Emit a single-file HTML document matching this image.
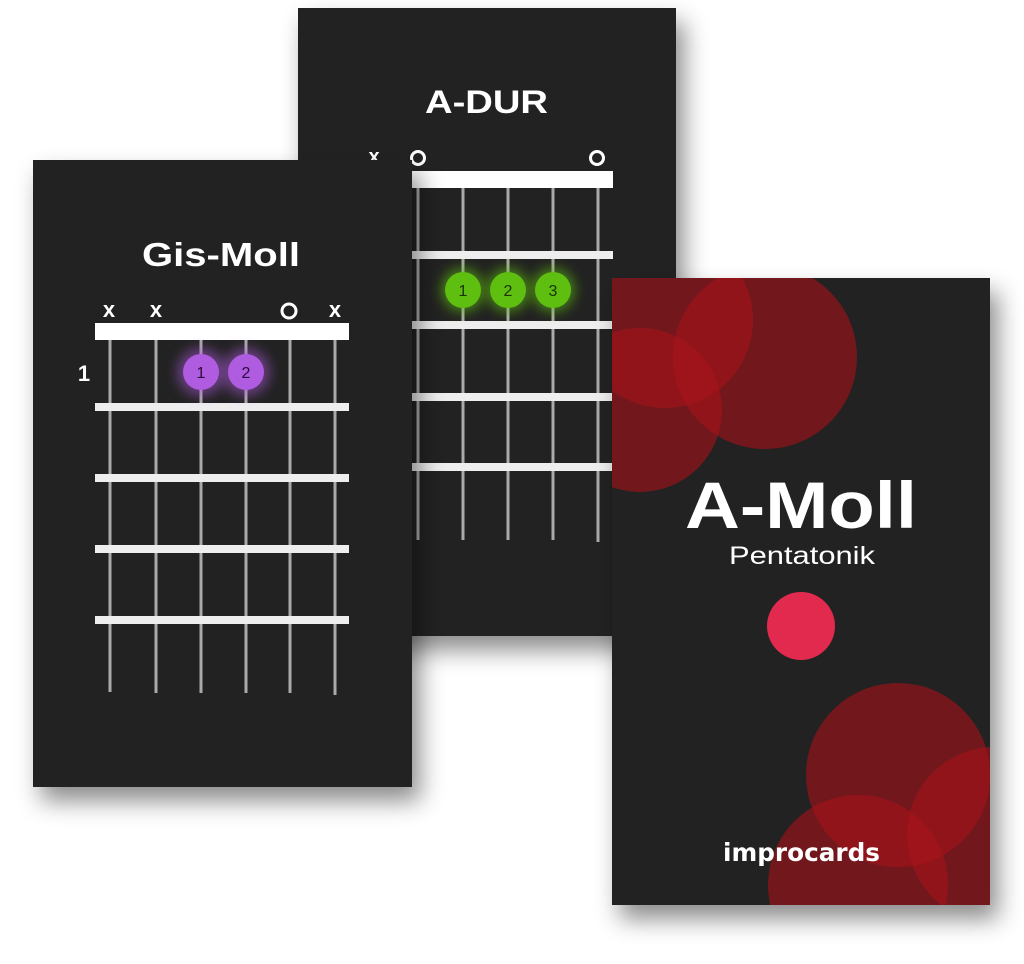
<!DOCTYPE html>
<html><head><meta charset="utf-8"><style>
html,body{margin:0;padding:0;background:#fff;width:1024px;height:964px;overflow:hidden}
svg{display:block}
text{font-family:"Liberation Sans",sans-serif;fill:#fff}
</style></head><body>
<svg width="1024" height="964" viewBox="0 0 1024 964" xmlns="http://www.w3.org/2000/svg">
<defs>
<filter id="sh" x="-20%" y="-20%" width="150%" height="150%"><feDropShadow dx="8" dy="14" stdDeviation="12" flood-color="#000" flood-opacity="0.45"/></filter>
<filter id="gl" x="-100%" y="-100%" width="300%" height="300%"><feGaussianBlur stdDeviation="6"/></filter>
<clipPath id="c3"><rect x="612" y="278" width="378" height="627"/></clipPath>
</defs>

<!-- A-DUR card -->
<rect x="298" y="8" width="378" height="628" fill="#232323" filter="url(#sh)"/>
<text x="425" y="113" font-size="32" font-weight="bold" textLength="123" lengthAdjust="spacingAndGlyphs">A-DUR</text>
<text x="374" y="163" font-size="20" font-weight="bold" text-anchor="middle">x</text>
<circle cx="418" cy="158" r="6.5" fill="none" stroke="#fff" stroke-width="3"/>
<circle cx="597" cy="158" r="6.5" fill="none" stroke="#fff" stroke-width="3"/>
<g stroke="#aaa" stroke-width="3">
<line x1="418" y1="188" x2="418" y2="540"/><line x1="463" y1="188" x2="463" y2="540"/><line x1="508" y1="188" x2="508" y2="540"/><line x1="553" y1="188" x2="553" y2="540"/><line x1="598" y1="188" x2="598" y2="542"/>
</g>
<rect x="411" y="171" width="202" height="17" fill="#fff"/>
<g fill="#eee"><rect x="411" y="251" width="202" height="8"/><rect x="411" y="321" width="202" height="8"/><rect x="411" y="393" width="202" height="8"/><rect x="411" y="463" width="202" height="8"/></g>
<g fill="#5fbf10"><circle cx="463" cy="290" r="22" filter="url(#gl)" opacity="0.6"/><circle cx="508" cy="290" r="22" filter="url(#gl)" opacity="0.6"/><circle cx="553" cy="290" r="22" filter="url(#gl)" opacity="0.6"/>
<circle cx="463" cy="290" r="18"/><circle cx="508" cy="290" r="18"/><circle cx="553" cy="290" r="18"/></g>
<text x="463" y="296" font-size="16" text-anchor="middle" style="fill:#1a3300">1</text><text x="508" y="296" font-size="16" text-anchor="middle" style="fill:#1a3300">2</text><text x="553" y="296" font-size="16" text-anchor="middle" style="fill:#1a3300">3</text>

<!-- Gis-Moll card -->
<rect x="33" y="160" width="379" height="627" fill="#232323" filter="url(#sh)"/>
<text x="142" y="266" font-size="33" font-weight="bold" textLength="158" lengthAdjust="spacingAndGlyphs">Gis-Moll</text>
<g font-size="22" font-weight="bold" text-anchor="middle"><text x="109" y="317">x</text><text x="156" y="317">x</text><text x="335" y="317">x</text></g>
<circle cx="289" cy="311" r="7" fill="none" stroke="#fff" stroke-width="3"/>
<text x="84" y="381" font-size="22" font-weight="bold" text-anchor="middle">1</text>
<g stroke="#aaa" stroke-width="3">
<line x1="110" y1="340" x2="110" y2="692"/><line x1="156" y1="340" x2="156" y2="693"/><line x1="201" y1="340" x2="201" y2="693"/><line x1="246" y1="340" x2="246" y2="693"/><line x1="290" y1="340" x2="290" y2="693"/><line x1="335" y1="340" x2="335" y2="695"/>
</g>
<rect x="95" y="323" width="254" height="17" fill="#fff"/>
<g fill="#eee"><rect x="95" y="403" width="254" height="8"/><rect x="95" y="474" width="254" height="8"/><rect x="95" y="545" width="254" height="8"/><rect x="95" y="616" width="254" height="8"/></g>
<g fill="#b05ce0"><circle cx="201" cy="372" r="24" filter="url(#gl)" opacity="0.5"/><circle cx="246" cy="372" r="24" filter="url(#gl)" opacity="0.5"/>
<circle cx="201" cy="372" r="18"/><circle cx="246" cy="372" r="18"/></g>
<text x="201" y="378" font-size="16" text-anchor="middle" style="fill:#2a0a3a">1</text><text x="246" y="378" font-size="16" text-anchor="middle" style="fill:#2a0a3a">2</text>

<!-- A-Moll card -->
<rect x="612" y="278" width="378" height="627" fill="#232323" filter="url(#sh)"/>
<g clip-path="url(#c3)" fill="#a8121b" fill-opacity="0.6">
<circle cx="765" cy="357" r="92"/>
<circle cx="640" cy="410" r="82"/>
<circle cx="665" cy="320" r="88"/>
<circle cx="898" cy="775" r="92"/>
<circle cx="858" cy="885" r="90"/>
<circle cx="995" cy="835" r="88"/>
</g>
<text x="685" y="528" font-size="66" font-weight="bold" textLength="232" lengthAdjust="spacingAndGlyphs">A-Moll</text>
<text x="729" y="564" font-size="25" textLength="146" lengthAdjust="spacingAndGlyphs">Pentatonik</text>
<circle cx="801" cy="626" r="34" fill="#e22a4e"/>
<text x="723" y="861" font-size="25" font-weight="bold" textLength="157" lengthAdjust="spacingAndGlyphs" style="font-family:'DejaVu Sans',sans-serif">improcards</text>
</svg>
</body></html>
